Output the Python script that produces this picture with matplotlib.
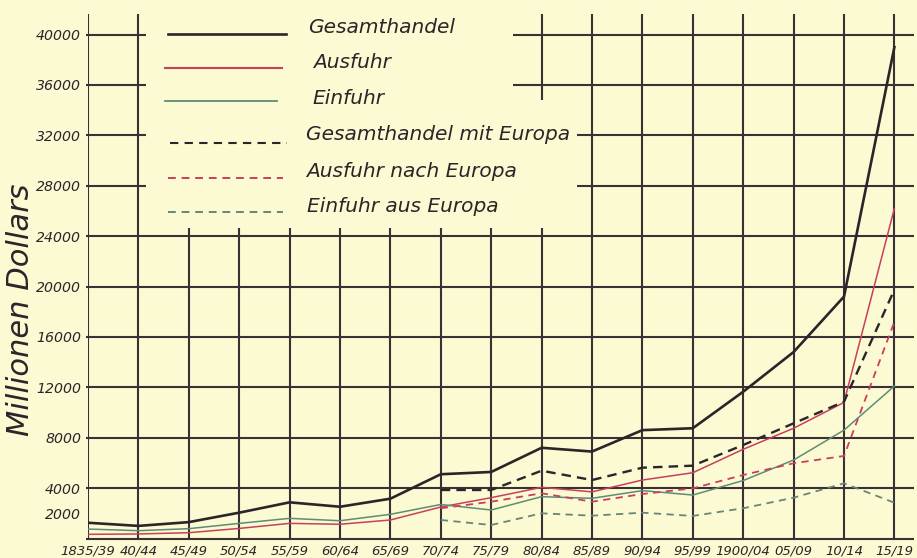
import matplotlib.pyplot as plt
from matplotlib.patches import Rectangle
import numpy as np

# --- data (million dollars, 5-year totals) ---
periods = ['1835/39', '40/44', '45/49', '50/54', '55/59', '60/64', '65/69', '70/74',
           '75/79', '80/84', '85/89', '90/94', '95/99', '1900/04', '05/09', '10/14', '15/19']
gesamthandel = [1250, 1000, 1300, 2050, 2870, 2520, 3160, 5100, 5280, 7200, 6900,
                8600, 8750, 11650, 14800, 19200, 39000]
ausfuhr = [330, 360, 460, 800, 1200, 1130, 1470, 2500, 3240, 4060, 3700,
           4640, 5220, 7080, 8750, 10800, 26200]
einfuhr = [750, 620, 780, 1200, 1600, 1410, 1920, 2700, 2260, 3320, 3190,
           3800, 3450, 4600, 6230, 8600, 12100]

# Europe series only from 70/74 on
europa_periods = periods[7:]
gesamt_europa = [3850, 3850, 5380, 4640, 5620, 5780, 7420, 9140, 10860, 19750]
ausfuhr_europa = [2400, 2920, 3590, 2920, 3530, 3980, 5040, 5970, 6550, 17200]
einfuhr_europa = [1470, 1070, 2000, 1810, 2050, 1790, 2400, 3240, 4380, 2840]

ytick_vals = [2000, 4000, 8000, 12000, 16000, 20000, 24000, 28000, 32000, 36000, 40000]
ytick_labels = ['2000', '4000', '8000', '12000', '16000', '20000', '24000',
                '28000', '32000', '36000', '40000']

legend_labels = ['Gesamthandel', 'Ausfuhr', 'Einfuhr', 'Gesamthandel mit Europa',
                 'Ausfuhr nach Europa', 'Einfuhr aus Europa']

# --- styling ---
bg = '#fbfad2'
ink = '#3a3035'
black = '#2b2429'
red = '#c8405c'
green = '#5e8c76'
green_d = '#6b8479'

W, H = 917, 558
fig = plt.figure(figsize=(W / 100, H / 100), dpi=100, facecolor=bg)

# pixel geometry of the plot area
x_left, x_step = 88, 50.4
y_zero, y_per_k = 538.5, 12.6
x_right, y_top = 914, 14
xmax = (x_right - x_left) / x_step
ymax = (y_zero - y_top) / y_per_k * 1000

ax = fig.add_axes([x_left / W, (H - y_zero) / H, (x_right - x_left) / W, (y_zero - y_top) / H])
ax.set_facecolor(bg)
ax.set_xlim(0, xmax)
ax.set_ylim(0, ymax)
for s in ax.spines.values():
    s.set_visible(False)


def px2data(px, py):
    return (px - x_left) / x_step, (y_zero - py) / y_per_k * 1000


x = np.arange(len(periods))
xe = np.arange(len(periods) - len(europa_periods), len(periods))

# grid
ax.vlines(x, 0, ymax, color=ink, lw=1.5, zorder=1)
ax.hlines(ytick_vals[1:] + [0], -0.04, xmax, color=ink, lw=1.5, zorder=1, clip_on=False)

# blank area behind the legend
x0, y0 = px2data(146, 228)
x1, _ = px2data(513, 0)
x2, y2 = px2data(577, 100)
ax.add_patch(Rectangle((x0, y0), x1 - x0, ymax - y0, facecolor=bg, edgecolor='none', zorder=1.5))
ax.add_patch(Rectangle((x1, y0), x2 - x1, y2 - y0, facecolor=bg, edgecolor='none', zorder=1.5))

# series
ax.plot(x, gesamthandel, color=black, lw=1.9, zorder=3)
ax.plot(x, ausfuhr, color=red, lw=1.1, zorder=3)
ax.plot(x, einfuhr, color=green, lw=1.1, zorder=3)
ax.plot(xe, gesamt_europa, color=black, lw=1.7, dashes=(4, 2.6), zorder=3)
ax.plot(xe, ausfuhr_europa, color=red, lw=1.3, dashes=(4, 3), zorder=3)
ax.plot(xe, einfuhr_europa, color=green_d, lw=1.3, dashes=(4, 3), zorder=3)

# legend drawn by hand
leg_rows = [(34, 27, 168, 286, 308), (68, 62, 165, 282, 313), (101, 99, 165, 277, 312),
            (143, 135, 170, 287, 306), (178, 172, 168, 283, 306), (212, 207, 168, 283, 307)]
leg_styles = [dict(color=black, lw=1.9), dict(color=red, lw=1.5), dict(color=green, lw=1.3),
              dict(color=black, lw=1.5, dashes=(4, 3)), dict(color=red, lw=1.4, dashes=(4, 3)),
              dict(color=green_d, lw=1.4, dashes=(4, 3))]
for (ly, ty, lx0, lx1, tx), st, lab in zip(leg_rows, leg_styles, legend_labels):
    a0, b0 = px2data(lx0, ly)
    a1, _ = px2data(lx1, ly)
    ax.plot([a0, a1], [b0, b0], zorder=4, clip_on=False, **st)
    ta, tb = px2data(tx, ty)
    ax.text(ta, tb, lab, fontsize=14.5, style='italic', color=black, ha='left', va='center', zorder=4)

# ticks
ax.set_xticks(x)
ax.set_xticklabels(periods, fontsize=9.5, style='italic', color=black)
ax.set_yticks(ytick_vals)
ax.set_yticklabels(ytick_labels, fontsize=10.2, style='italic', color=black)
ax.tick_params(length=0)
ax.tick_params(axis='x', pad=4)
ax.tick_params(axis='y', pad=5)

fig.text(21 / W, 1 - 310 / H, 'Millionen Dollars', rotation=90, fontsize=22,
         style='italic', color=black, ha='center', va='center')

fig.savefig('out.png', dpi=100, facecolor=bg)
